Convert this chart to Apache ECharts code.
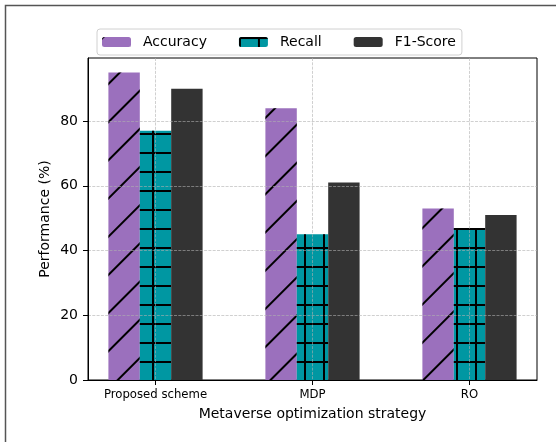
<!DOCTYPE html>
<html>
<head>
<meta charset="utf-8">
<script src="https://cdn.jsdelivr.net/npm/echarts@6/dist/echarts.min.js"></script>
<style>
html,body{margin:0;padding:0;background:#fff;}
#chart{width:556px;height:442px;}
</style>
</head>
<body>
<div id="chart"></div>
<script>
// ---- data ----
const categories = ['Proposed scheme', 'MDP', 'RO'];
const seriesNames = ['Accuracy', 'Recall', 'F1-Score'];
const accuracy = [95, 84, 53];
const recall = [77, 45, 47];
const f1Score = [90, 61, 51];
const yTicks = [0, 20, 40, 60, 80];

const FONT = 'DejaVu Sans';
const chart = echarts.init(document.getElementById('chart'), null, {renderer: 'canvas'});

function toPoints(arr) { return arr.map((v, i) => [i, v]); }

const gridLine = {color: 'rgba(176,176,176,0.75)', width: 0.8, type: [3, 1.3]};

const option = {
  animation: false,
  backgroundColor: '#ffffff',
  graphic: [{
    type: 'rect',
    shape: {x: 5.5, y: 5.5, width: 600, height: 600},
    style: {fill: null, stroke: '#555555', lineWidth: 1.5},
    z: 0, silent: true
  }],
  grid: {
    left: 88, right: 19, top: 58, bottom: 62,
    show: true, borderColor: '#000', borderWidth: 1, backgroundColor: 'transparent'
  },
  legend: {
    left: 97, top: 29,
    padding: [6, 6, 6, 5],
    itemWidth: 29, itemHeight: 10, itemGap: 32,
    borderColor: '#d0d0d0', borderWidth: 1, borderRadius: 3,
    backgroundColor: 'rgba(255,255,255,0.85)',
    textStyle: {fontFamily: FONT, fontSize: 14, color: '#000', padding: [0, 0, 0, 7]},
    data: seriesNames,
    z: 10
  },
  xAxis: {
    type: 'value',
    min: -0.43, max: 2.43,
    z: 3,
    name: 'Metaverse optimization strategy',
    nameLocation: 'middle', nameGap: 27,
    nameTextStyle: {fontFamily: FONT, fontSize: 14, color: '#000'},
    axisLine: {show: true, onZero: false, lineStyle: {color: '#000', width: 1}},
    axisTick: {show: true, length: 5, customValues: [0, 1, 2], lineStyle: {color: '#000'}},
    axisLabel: {
      customValues: [0, 1, 2], margin: 9,
      fontFamily: FONT, fontSize: 11.7, color: '#000',
      formatter: v => categories[Math.round(v)]
    },
    splitLine: {show: true, lineStyle: gridLine}
  },
  yAxis: {
    type: 'value',
    min: 0, max: 99.5, interval: 20,
    z: 3,
    name: 'Performance (%)',
    nameLocation: 'middle', nameGap: 36, nameMoveOverlap: false,
    nameTextStyle: {fontFamily: FONT, fontSize: 14, color: '#000'},
    axisLine: {show: true, onZero: false, lineStyle: {color: '#000', width: 1}},
    axisTick: {show: true, length: 5, customValues: yTicks, lineStyle: {color: '#000'}},
    axisLabel: {margin: 10, customValues: yTicks, fontFamily: FONT, fontSize: 14, color: '#000',
      formatter: v => String(v)},
    splitLine: {show: true, lineStyle: gridLine}
  },
  series: [
    {
      name: seriesNames[0], type: 'bar', data: toPoints(accuracy),
      barWidth: '20%', barGap: '0%',
      itemStyle: {
        color: '#9b70bd',
        decal: {symbol: 'rect', symbolSize: 1, color: '#000',
          dashArrayX: [1, 0], dashArrayY: [1.1, 24.4], rotation: -Math.PI / 4}
      }
    },
    {
      name: seriesNames[1], type: 'bar', data: toPoints(recall),
      barWidth: '20%', barGap: '0%',
      itemStyle: {
        color: '#0097a2',
        decal: {symbol: 'rect', symbolSize: 1, color: '#000',
          dashArrayX: [[1, 0], [1.2, 16.5]], dashArrayY: [1.2, 0, 16.5, 0]}
      }
    },
    {
      name: seriesNames[2], type: 'bar', data: toPoints(f1Score),
      barWidth: '20%', barGap: '0%',
      itemStyle: {color: '#333333'}
    }
  ]
};
chart.setOption(option);
</script>
</body>
</html>
